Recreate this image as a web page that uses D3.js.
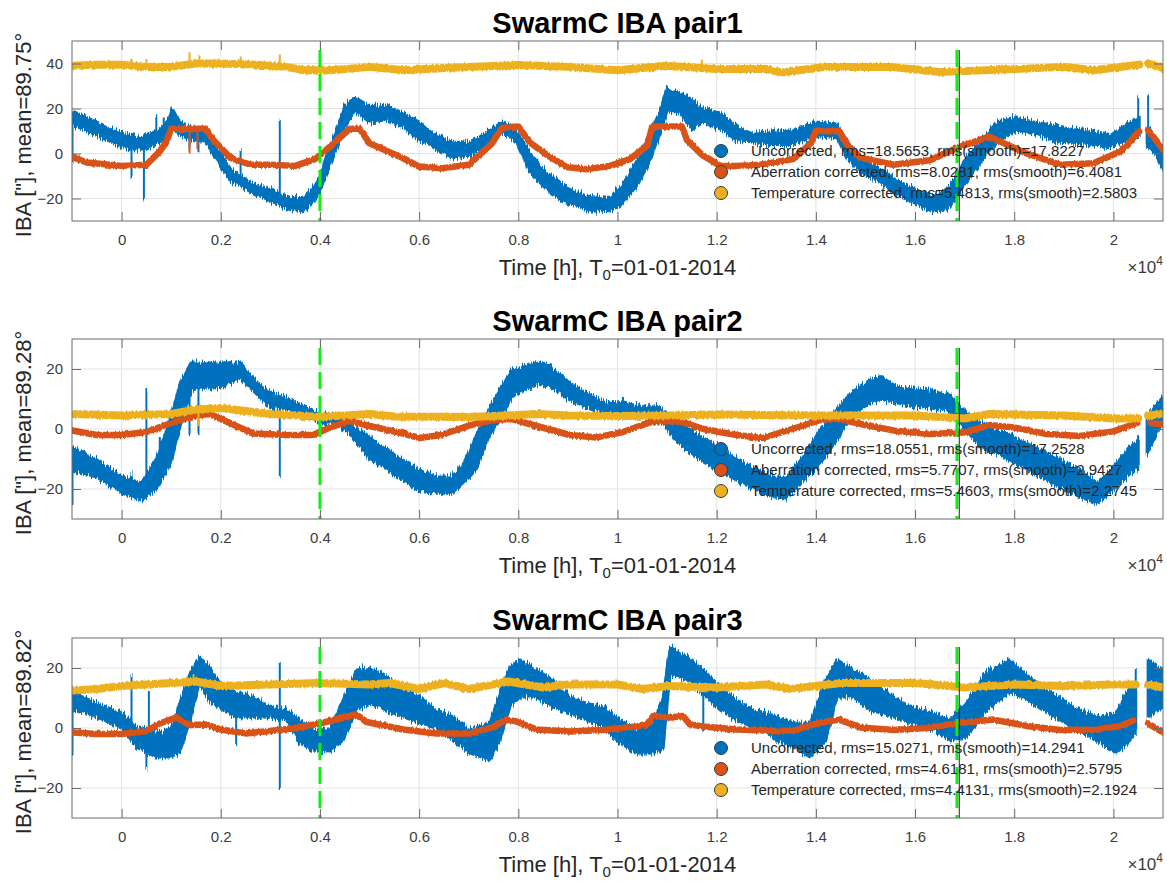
<!DOCTYPE html>
<html>
<head>
<meta charset="utf-8">
<script src="https://cdn.jsdelivr.net/npm/d3@7/dist/d3.min.js"></script>
<style>
    body { margin: 0; background: #fff; }
    svg { display: block; font-family: "Liberation Sans", Arial, sans-serif; }
</style>
</head>
<body>
<svg id="chart" width="1167" height="883"></svg>
<script>
// time axis is in units of 1e4 hours
const timeTicks = [0, 0.2, 0.4, 0.6, 0.8, 1, 1.2, 1.4, 1.6, 1.8, 2];
const eventTimes = [0.4, 1.6845];
const markerTimes = [1.6892];

const pairTitles = ['SwarmC IBA pair1', 'SwarmC IBA pair2', 'SwarmC IBA pair3'];
const pairMeans = ['89.75', '89.28', '89.82'];
const yDomains = [[-30, 50], [-30, 30], [-30, 30]];
const yTicks = [[-20, 0, 20, 40], [-20, 0, 20], [-20, 0, 20]];

const seriesNames = ['Uncorrected', 'Aberration corrected', 'Temperature corrected'];
const rmsValues = [[18.5653, 8.0281, 5.4813], [18.0551, 5.7707, 5.4603], [15.0271, 4.6181, 4.4131]];
const rmsSmooth = [[17.8227, 6.4081, 2.5803], [17.2528, 2.9427, 2.2745], [14.2941, 2.5795, 2.1924]];

// uncorrected: [t, lower envelope, upper envelope]; null = data gap
const pair1Uncorrected = [
    [-0.1, 13, 19], [-0.07, 10, 16], [-0.04, 7, 13], [-0.02, 5, 11], [0, 3, 9], [0.02, 2, 8],
    [0.04, 2, 7], [0.06, 3, 9], [0.08, 5, 11], [0.095, 9, 15], [0.103, 12, 20], [0.115, 9, 15],
    [0.13, 7, 12], [0.15, 6, 11], [0.17, 5, 10], [0.18, 1, 6], [0.2, -5, 0], [0.22, -12, -7],
    [0.26, -17, -13], [0.3, -21, -16], [0.34, -25, -20], [0.365, -25.5, -20], [0.385, -22, -16],
    [0.4, -17, -10], [0.415, -8, 0], [0.43, 0, 8], [0.45, 12, 21], [0.47, 19, 25], [0.5, 14, 21],
    [0.535, 15, 21], [0.567, 12, 18], [0.6, 6, 14], [0.635, 2, 8], [0.668, -2, 5], [0.7, -1, 5],
    [0.736, 3, 9], [0.767, 10, 14], [0.797, 5, 10], [0.823, -8, 0], [0.857, -16, -8],
    [0.89, -21, -14], [0.938, -25, -19], [0.985, -25.5, -20], [1.01, -22, -14], [1.04, -14, -3],
    [1.066, -3, 9], [1.086, 9, 19], [1.1, 19, 29], [1.126, 18, 27], [1.15, 11, 24], [1.17, 14, 20],
    [1.207, 11, 18], [1.24, 6, 12], [1.274, 5, 9], [1.3, 4, 9.5], [1.354, 4, 10], [1.4, 8, 14],
    [1.443, 7, 13], [1.463, -2, 5], [1.49, -8, -2], [1.524, -12, -6], [1.556, -17, -11],
    [1.59, -21, -15], [1.637, -26, -19.5], [1.67, -24, -15], [1.697, -15, -4], [1.73, -4, 5],
    [1.766, 5, 14], [1.798, 10, 16], [1.839, 9, 14], [1.893, 5, 12], [1.948, 4, 10],
    [1.994, 3, 8], [2.034, 6, 14], [2.052, 8, 16], null,
    [2.068, 4, 12], [2.085, 0, 6], [2.1, -7, 2]
];
const pair1Aberration = [
    [-0.1, -1.5], [-0.07, -4], [0, -5.5], [0.05, -5], [0.077, 1], [0.09, 5], [0.1, 11], [0.17, 11],
    [0.185, 6], [0.22, -2], [0.26, -5], [0.3, -5], [0.35, -5.5], [0.39, -2.5], [0.42, 3], [0.46, 11],
    [0.48, 11], [0.5, 4.5], [0.567, -2], [0.6, -5.8], [0.644, -6.6], [0.7, -5], [0.747, 4.5],
    [0.767, 11.5], [0.8, 12], [0.823, 4.9], [0.857, -0.5], [0.897, -6], [0.938, -7], [0.985, -5.5],
    [1.025, -2.5], [1.06, 3.5], [1.07, 12], [1.13, 12], [1.14, 6], [1.17, -0.5], [1.207, -5.5],
    [1.24, -5.5], [1.288, -5], [1.354, -2.5], [1.39, 4.6], [1.4, 10], [1.447, 10], [1.463, 4],
    [1.49, -1.8], [1.556, -5], [1.63, -3], [1.69, 3], [1.75, 7.5], [1.825, 0], [1.893, -5],
    [1.96, -4.3], [2.015, 1], [2.052, 9.8], null, [2.07, 10.5], [2.1, 1.8]
];
const pair1Temperature = [
    [-0.1, 39], [-0.05, 39.5], [0, 39.5], [0.05, 38.5], [0.1, 38.5], [0.15, 40], [0.2, 40],
    [0.27, 39.5], [0.33, 38.5], [0.37, 37], [0.42, 37], [0.45, 37.5], [0.5, 38.5], [0.57, 37],
    [0.65, 38], [0.8, 39.3], [0.9, 38.5], [1, 37], [1.1, 39], [1.2, 37.5], [1.3, 37.6], [1.33, 36],
    [1.42, 38.5], [1.55, 38.5], [1.65, 36.2], [1.8, 37.5], [1.9, 38.5], [1.96, 37], [2.052, 39.5],
    null, [2.07, 40], [2.1, 38]
];
// short excursions: [t, from, to]
const pair1Spikes = [
    [[-0.099, -4, 13], [0.02, -11, 5], [0.045, -20, 4], [0.07, 5, 17], [0.085, 5, 16], [0.137, 3, 11],
     [0.155, 1, 11], [0.24, -10, 2], [0.319, -20, 15], [2.05, 10, 25], [2.07, 8, 25]],
    [[0.137, 0, 11], [0.153, 2, 11]],
    [[0.02, 38, 42], [0.05, 38, 42], [0.137, 38, 45], [0.157, 38, 44], [0.24, 38, 43], [0.319, 38, 44], [1.17, 38, 41.7]]
];

const pair2Uncorrected = [
    [-0.1, -13.7, -6], [-0.05, -16, -10.3], [0, -21.4, -16], [0.04, -23.7, -18], [0.07, -20, -10],
    [0.1, -11, 4], [0.12, 2, 16], [0.14, 13, 22], [0.17, 14, 22], [0.2, 14, 22], [0.24, 17, 22],
    [0.27, 12, 16], [0.3, 7.4, 12], [0.33, 6.3, 10.7], [0.37, 5, 7], [0.4, 2, 5], [0.43, 2, 5],
    [0.46, -1.5, 2], [0.5, -10, -3], [0.535, -13.7, -7], [0.567, -17, -10.3], [0.6, -20.3, -13.7],
    [0.635, -21.4, -16], [0.668, -21.4, -16], [0.69, -18, -11.4], [0.714, -13.7, -2.7],
    [0.74, -2.7, 6.3], [0.767, 4, 14], [0.787, 10.7, 19.7], [0.81, 13, 20.7], [0.84, 15.3, 22.3],
    [0.866, 14, 20.7], [0.904, 9.7, 15.3], [0.937, 7.4, 12], [0.971, 5.7, 9], [1.011, 4, 8.7],
    [1.052, 4, 7.4], [1.085, 4, 7.4], [1.106, -1.4, 3], [1.126, -5, 2], [1.173, -11, -3],
    [1.207, -14, -6], [1.24, -17, -10], [1.274, -20, -13], [1.314, -22.7, -16], [1.341, -23, -16],
    [1.375, -17, -9.3], [1.409, -11.4, -0.3], [1.442, -3.7, 6.3], [1.476, 5.3, 13], [1.51, 8.7, 16.3],
    [1.53, 10, 17.5], [1.564, 8.7, 14], [1.611, 7.4, 13], [1.664, 6.3, 12], [1.691, 2, 7.4],
    [1.732, -6, 2], [1.765, -8, -0.3], [1.799, -11.4, -2.7], [1.866, -17, -8], [1.933, -22.7, -13.7],
    [1.967, -24.7, -18], [2, -20.3, -12.7], [2.034, -14.7, -6], [2.05, -12, -4], null,
    [2.068, -8, 4], [2.1, 3, 10.7]
];
const pair2Aberration = [
    [-0.1, -0.5], [-0.05, -2], [0, -2], [0.05, -1], [0.1, 2], [0.15, 4.5], [0.178, 5], [0.218, 2],
    [0.265, -1.5], [0.333, -2], [0.386, -2], [0.42, 0.5], [0.46, 2.7], [0.5, 1], [0.568, -1.5],
    [0.601, -3], [0.644, -2], [0.702, 1.2], [0.747, 3], [0.787, 3.3], [0.837, 1], [0.904, -2],
    [0.958, -2.8], [1.011, -1], [1.065, 2.2], [1.092, 2.7], [1.132, 2.3], [1.173, 0], [1.24, -2],
    [1.293, -3], [1.362, 0.5], [1.409, 3], [1.442, 3.5], [1.495, 1.5], [1.564, -0.7], [1.63, -1.7],
    [1.697, -1.2], [1.75, 1.3], [1.799, 0.5], [1.866, -1.7], [1.933, -2.3], [2, -0.8], [2.048, 2],
    null, [2.075, 2], [2.1, 1.5]
];
const pair2Temperature = [
    [-0.1, 5], [0, 4.5], [0.1, 5], [0.15, 6.5], [0.2, 7], [0.3, 5], [0.4, 4], [0.45, 4.5], [0.5, 5],
    [0.55, 4.2], [0.7, 4], [0.84, 5], [0.9, 4.5], [1, 4.3], [1.1, 4.5], [1.2, 4.8], [1.4, 4.5],
    [1.6, 4.5], [1.7, 3.5], [1.75, 5], [1.9, 4.5], [2, 3.5], [2.05, 3.5], null, [2.07, 4.5], [2.1, 5]
];
const pair2Spikes = [
    [[-0.099, -25, -6], [0.02, -21, -15], [0.05, -18, 13], [0.077, -17, -3], [0.137, -2, 13],
     [0.155, -2, 13], [0.319, -16, 7], [1.011, 4, 11], [2.05, -14, -2]],
    [],
    [[0.155, 1, 6]]
];

const pair3Uncorrected = [
    [-0.097, 6, 11.7], [-0.051, 3.7, 8.3], [0, 0.3, 5], [0.03, -6.3, 0.3], [0.07, -9.7, -1.7],
    [0.099, -9.7, -0.7], [0.117, -8, 8], [0.137, 1.7, 18], [0.157, 15, 23.7], [0.178, 9, 20],
    [0.198, 7, 15], [0.231, 3.7, 11.7], [0.265, 3.7, 10.3], [0.299, 3.7, 7], [0.333, 2.7, 6],
    [0.359, -5, 2.7], [0.386, -7.3, -0.7], [0.42, -7.7, -0.7], [0.447, -4, 9.3], [0.473, 6, 19.3],
    [0.501, 8.3, 20.3], [0.534, 6, 17], [0.568, 3.7, 13.7], [0.601, 1.7, 10.3], [0.635, 0.3, 6],
    [0.669, -4, 3.7], [0.702, -8.3, -0.7], [0.743, -10.7, 1.7], [0.763, -4, 11.7], [0.783, 7, 20.3],
    [0.803, 10.3, 22.7], [0.837, 10.3, 19.3], [0.87, 7, 16], [0.904, 5, 10.3], [0.937, 2.7, 8.3],
    [0.971, 0.3, 7], [1.005, -5, 2.7], [1.039, -8.3, -0.7], [1.072, -8.3, 1.7], [1.092, -7, 10],
    [1.106, 18.3, 27], [1.139, 16, 23.7], [1.173, 11.7, 19.3], [1.207, 6, 13.7], [1.24, 2.7, 9.3],
    [1.274, 0.3, 6], [1.3, -1, 5], [1.321, -4, 3.7], [1.355, -6.3, 1.7], [1.389, -9.7, 1.7],
    [1.42, -4, 16], [1.443, 10.3, 22.7], [1.476, 10.3, 19.3], [1.51, 6, 16], [1.557, 3.7, 10.3],
    [1.59, 1.7, 7], [1.637, -0.7, 5], [1.671, -4, 2.7], [1.703, -3, 8.3], [1.743, 6, 18.3],
    [1.79, 11.7, 22.7], [1.82, 10.3, 18.3], [1.866, 5, 12.7], [1.92, 0.3, 7], [1.966, -4, 3.7],
    [2.006, -8.3, 5], [2.034, -4, 13.7], [2.045, 0, 14], null, [2.07, 3.7, 22.7], [2.1, 7, 19]
];
const pair3Aberration = [
    [-0.097, -1.5], [-0.05, -2], [0, -2], [0.05, -1], [0.077, 1.5], [0.11, 3.5], [0.137, 1], [0.17, 1.2],
    [0.2, -0.5], [0.25, -1.8], [0.3, -1], [0.35, 0], [0.4, 1.5], [0.447, 3.5], [0.473, 4.5],
    [0.494, 2], [0.568, -0.5], [0.635, -1.8], [0.702, -1.8], [0.749, 0.3], [0.776, 2.8], [0.796, 2.2],
    [0.837, -0.5], [0.904, -1.2], [0.971, -0.7], [1.039, 0.5], [1.062, 1.5], [1.072, 4], [1.106, 3.5],
    [1.132, 4], [1.146, 1.2], [1.173, 0.5], [1.24, -0.5], [1.321, -1], [1.355, -0.8], [1.402, 1.5],
    [1.447, 2.8], [1.49, 0.2], [1.557, -0.7], [1.623, 0], [1.69, 1.7], [1.757, 2.8], [1.825, 0.7],
    [1.893, -0.7], [1.96, -0.7], [2.015, 0.7], [2.04, 2.5], null, [2.07, 1.5], [2.1, -1.5]
];
const pair3Temperature = [
    [-0.097, 12.5], [-0.05, 13], [0, 14], [0.1, 15], [0.15, 15.5], [0.2, 14], [0.3, 14.5], [0.4, 15],
    [0.5, 14.5], [0.54, 15], [0.6, 13], [0.65, 15], [0.7, 13], [0.78, 15.5], [0.85, 13.5], [0.9, 14.5],
    [1, 14.5], [1.05, 13], [1.1, 14], [1.2, 13.5], [1.3, 14.5], [1.35, 13], [1.45, 15], [1.6, 15],
    [1.7, 13.5], [1.8, 14.5], [1.9, 14], [2, 14.5], [2.045, 14.5], null, [2.07, 14.5], [2.1, 13.5]
];
const pair3Spikes = [
    [[-0.099, -9, 6], [0.02, -1, 18], [0.05, -14, 0], [0.055, -2, 11.7], [0.231, -6, 4],
     [0.319, -20.7, 21.7], [1.173, -0.7, 12], [2.045, -3, 20]],
    [],
    [[0.145, 14, 18]]
];

const pairs = [
    [pair1Uncorrected, pair1Aberration, pair1Temperature, pair1Spikes],
    [pair2Uncorrected, pair2Aberration, pair2Temperature, pair2Spikes],
    [pair3Uncorrected, pair3Aberration, pair3Temperature, pair3Spikes]
];

const colors = ['#0072BD', '#D95319', '#EDB120'];
const svg = d3.select('#chart');

const left = 72, right = 1163, panelHeight = 180;
const panelTops = [41, 339, 638];
const axisColor = '#6a6a6a', textColor = '#262626', tickTextColor = '#3c3c3c';

// noisy look of the densely sampled series: displace pixels vertically only
const defs = svg.append('defs');
function addRoughFilter(id, freq, scale, seed) {
    const f = defs.append('filter').attr('id', id)
        .attr('x', '-2%').attr('y', '-30%').attr('width', '104%').attr('height', '160%')
        .attr('color-interpolation-filters', 'sRGB');
    f.append('feTurbulence').attr('type', 'fractalNoise').attr('baseFrequency', freq)
        .attr('numOctaves', 2).attr('seed', seed).attr('result', 'noise');
    f.append('feColorMatrix').attr('in', 'noise').attr('type', 'matrix')
        .attr('values', '0 0 0 0 0.5  1 0 0 0 0  0 0 0 0 0  0 0 0 0 1').attr('result', 'map');
    f.append('feDisplacementMap').attr('in', 'SourceGraphic').attr('in2', 'map')
        .attr('scale', scale).attr('xChannelSelector', 'R').attr('yChannelSelector', 'G');
}
addRoughFilter('roughBlue', '0.8 0.05', 11, 3);
addRoughFilter('roughLine', '0.5 0.08', 3.5, 7);

const x = d3.scaleLinear().domain([-0.1, 2.1]).range([left, right]);

pairs.forEach(([unc, abe, tem, spikes], p) => {
    const top = panelTops[p], bottom = top + panelHeight;
    const y = d3.scaleLinear().domain(yDomains[p]).range([bottom, top]);
    const g = svg.append('g');

    g.append('clipPath').attr('id', 'clip' + p)
        .append('rect').attr('x', left).attr('y', top).attr('width', right - left).attr('height', panelHeight);

    // grid
    g.append('g').selectAll('line').data(timeTicks).enter().append('line')
        .attr('x1', d => x(d)).attr('x2', d => x(d)).attr('y1', top).attr('y2', bottom)
        .attr('stroke', '#e3e3e3');
    g.append('g').selectAll('line').data(yTicks[p]).enter().append('line')
        .attr('x1', left).attr('x2', right).attr('y1', d => y(d)).attr('y2', d => y(d))
        .attr('stroke', '#e3e3e3');

    const plot = g.append('g').attr('clip-path', `url(#clip${p})`);

    // uncorrected band
    const band = d3.area()
        .defined(d => d !== null)
        .x(d => x(d[0])).y0(d => y(d[1])).y1(d => y(d[2]));
    const blue = plot.append('g').attr('filter', 'url(#roughBlue)');
    blue.append('path').datum(unc).attr('d', band)
        .attr('fill', colors[0]).attr('stroke', colors[0]).attr('stroke-width', 3).attr('stroke-linejoin', 'round');

    const drawSpikes = (sel, list, color) => {
        sel.append('g').selectAll('line').data(list).enter().append('line')
            .attr('x1', d => x(d[0])).attr('x2', d => x(d[0]))
            .attr('y1', d => y(d[1])).attr('y2', d => y(d[2]))
            .attr('stroke', color).attr('stroke-width', 2);
    };
    drawSpikes(blue, spikes[0], colors[0]);

    const line = d3.line()
        .defined(d => d !== null)
        .x(d => x(d[0])).y(d => y(d[1]));
    const lines = plot.append('g').attr('filter', 'url(#roughLine)');
    lines.append('path').datum(abe).attr('d', line)
        .attr('fill', 'none').attr('stroke', colors[1]).attr('stroke-width', 6.5)
        .attr('stroke-linejoin', 'round').attr('stroke-linecap', 'round');
    drawSpikes(lines, spikes[1], colors[1]);

    lines.append('path').datum(tem).attr('d', line)
        .attr('fill', 'none').attr('stroke', colors[2]).attr('stroke-width', 8)
        .attr('stroke-linejoin', 'round').attr('stroke-linecap', 'round');
    drawSpikes(lines, spikes[2], colors[2]);

    // event markers
    plot.append('g').selectAll('line').data(eventTimes).enter().append('line')
        .attr('x1', d => x(d)).attr('x2', d => x(d)).attr('y1', top + 9).attr('y2', bottom)
        .attr('stroke', '#11ee11').attr('stroke-width', 3).attr('stroke-dasharray', '17,7');
    plot.append('g').selectAll('line').data(markerTimes).enter().append('line')
        .attr('x1', d => x(d)).attr('x2', d => x(d)).attr('y1', top + 9).attr('y2', bottom)
        .attr('stroke', '#222').attr('stroke-width', 1);

    // legend
    const fmt = d3.format('.4f');
    const legend = g.append('g').selectAll('g').data(seriesNames).enter().append('g')
        .attr('transform', (d, i) => `translate(721,${bottom - 70 + 21 * i})`);
    legend.append('circle').attr('r', 6.5)
        .attr('fill', (d, i) => colors[i]).attr('stroke', '#3a3a3a').attr('stroke-width', 1);
    legend.append('text').attr('x', 30).attr('dy', '0.35em')
        .attr('font-size', 15).attr('fill', textColor)
        .text((d, i) => `${d}, rms=${fmt(rmsValues[p][i])}, rms(smooth)=${fmt(rmsSmooth[p][i])}`);

    // axes
    const styleAxis = sel => {
        sel.select('.domain').remove();
        sel.selectAll('line').attr('stroke', axisColor);
        sel.selectAll('text').attr('fill', tickTextColor).attr('font-size', 15)
            .attr('font-family', '"Liberation Sans", Arial, sans-serif');
    };
    g.append('g').attr('transform', `translate(0,${bottom})`)
        .call(d3.axisBottom(x).tickValues(timeTicks).tickFormat(d3.format('')).tickSizeInner(-9).tickSizeOuter(0).tickPadding(13))
        .call(styleAxis);
    g.append('g').attr('transform', `translate(0,${top})`)
        .call(d3.axisTop(x).tickValues(timeTicks).tickFormat('').tickSizeInner(-9).tickSizeOuter(0))
        .call(styleAxis);
    g.append('g').attr('transform', `translate(${left},0)`)
        .call(d3.axisLeft(y).tickValues(yTicks[p]).tickSizeInner(-9).tickSizeOuter(0).tickPadding(9))
        .call(styleAxis);
    g.append('g').attr('transform', `translate(${right},0)`)
        .call(d3.axisRight(y).tickValues(yTicks[p]).tickFormat('').tickSizeInner(-9).tickSizeOuter(0))
        .call(styleAxis);
    g.append('rect').attr('x', left).attr('y', top).attr('width', right - left).attr('height', panelHeight)
        .attr('fill', 'none').attr('stroke', axisColor).attr('stroke-width', 1);

    // labels
    g.append('text').attr('x', (left + right) / 2).attr('y', top - 8)
        .attr('text-anchor', 'middle').attr('font-size', 29).attr('font-weight', 'bold').attr('fill', '#000')
        .text(pairTitles[p]);

    const xl = g.append('text').attr('x', (left + right) / 2).attr('y', bottom + 54)
        .attr('text-anchor', 'middle').attr('font-size', 22).attr('fill', textColor);
    xl.append('tspan').text('Time [h], T');
    xl.append('tspan').attr('font-size', 15).attr('dy', 5).text('0');
    xl.append('tspan').attr('dy', -5).text('=01-01-2014');

    const ex = g.append('text').attr('x', right).attr('y', bottom + 52)
        .attr('text-anchor', 'end').attr('font-size', 17).attr('fill', tickTextColor);
    ex.append('tspan').text('\u00d710');
    ex.append('tspan').attr('font-size', 12).attr('dy', -8).text('4');

    g.append('text').attr('transform', `translate(23,${(top + bottom) / 2 + 4}) rotate(-90)`)
        .attr('text-anchor', 'middle').attr('dy', '0.35em').attr('font-size', 22).attr('fill', textColor)
        .text(`IBA ["], mean=${pairMeans[p]}\u00b0`);
});
</script>
</body>
</html>
